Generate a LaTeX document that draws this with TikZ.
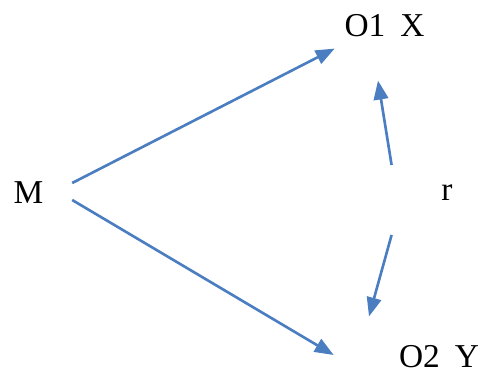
\documentclass[tikz,border=0pt]{standalone}
\usepackage{fontspec}
\setmainfont{Liberation Serif}
\usepackage{tikz}
\usetikzlibrary{arrows.meta, calc}
\definecolor{cBlue}{RGB}{74,126,193}
\tikzset{
	lbl/.style ={inner sep=0pt, font=\fontsize{19}{22}\selectfont},
	link/.style={-{Triangle[length=3.8mm, width=2.9mm]}, line width=1.5pt, draw=cBlue},
}
\begin{document}
\begin{tikzpicture}[x=0.02cm, y=0.02cm]
	\useasboundingbox (0,0) rectangle (483,-371);
	\node[lbl] (M) at (28.5,-192.5) {M};
	\node[lbl] (ox) at (384.5,-26) {O1\hspace{0.45em}X};
	\node[lbl] (oy) at (439,-357) {O2\hspace{0.45em}Y};
	\node[lbl] (r) at (447,-193) {r};
	\draw[link] ([shift={(28.5,9.5)}]M.east) -- ([shift={(-9.5,-11)}]ox.south west);
	\draw[link] ([shift={(28.5,-7.5)}]M.east) -- ([shift={(-65,2)}]oy.west);
	\draw[link] ([shift={(-49.5,28)}]r.west) -- ([shift={(-6.5,-43)}]ox.south);
	\draw[link] ([shift={(-49.5,-42)}]r.west) -- ([shift={(-70,29)}]oy.north);
\end{tikzpicture}
\end{document}
